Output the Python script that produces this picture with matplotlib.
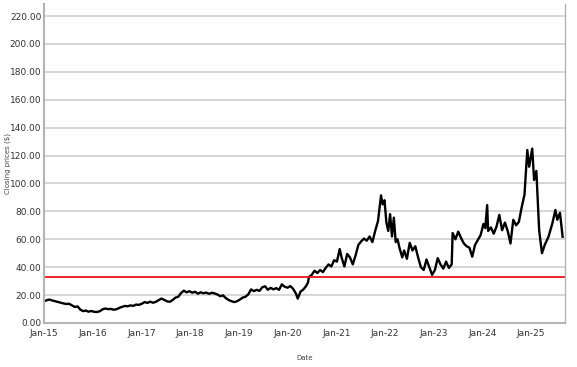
import pandas as pd
import matplotlib
matplotlib.use("Agg")
import matplotlib.pyplot as plt
import matplotlib.dates as mdates
from matplotlib.ticker import MultipleLocator, FormatStrFormatter

# Closing prices (approximate)
dates = [
    "2015-01-02", "2015-01-20", "2015-02-10", "2015-03-02", "2015-03-25", "2015-04-15",
    "2015-05-05", "2015-05-28", "2015-06-18", "2015-07-08", "2015-07-30", "2015-08-20",
    "2015-09-10", "2015-09-30", "2015-10-20", "2015-11-10", "2015-12-01", "2015-12-22",
    "2016-01-12", "2016-02-02", "2016-02-23", "2016-03-15", "2016-04-05", "2016-04-26",
    "2016-05-17", "2016-06-07", "2016-06-28", "2016-07-19", "2016-08-09", "2016-08-30",
    "2016-09-20", "2016-10-11", "2016-11-01", "2016-11-22", "2016-12-13", "2017-01-04",
    "2017-01-25", "2017-02-15", "2017-03-08", "2017-03-29", "2017-04-19", "2017-05-10",
    "2017-05-31", "2017-06-21", "2017-07-12", "2017-08-02", "2017-08-23", "2017-09-13",
    "2017-10-04", "2017-10-25", "2017-11-15", "2017-12-06", "2017-12-27", "2018-01-17",
    "2018-02-07", "2018-02-28", "2018-03-21", "2018-04-11", "2018-05-02", "2018-05-23",
    "2018-06-13", "2018-07-04", "2018-07-25", "2018-08-15", "2018-09-05", "2018-09-26",
    "2018-10-17", "2018-11-07", "2018-11-28", "2018-12-19", "2019-01-09", "2019-01-30",
    "2019-02-20", "2019-03-13", "2019-04-03", "2019-04-24", "2019-05-15", "2019-06-05",
    "2019-06-26", "2019-07-17", "2019-08-07", "2019-08-28", "2019-09-18", "2019-10-09",
    "2019-10-30", "2019-11-20", "2019-12-11", "2020-01-02", "2020-01-23", "2020-02-13",
    "2020-03-05", "2020-03-18", "2020-04-08", "2020-04-29", "2020-05-20", "2020-06-03",
    "2020-06-10", "2020-07-01", "2020-07-22", "2020-08-12", "2020-09-02", "2020-09-23",
    "2020-10-14", "2020-11-04", "2020-11-25", "2020-12-16", "2021-01-06", "2021-01-27",
    "2021-02-10", "2021-03-03", "2021-03-24", "2021-04-14", "2021-05-05", "2021-05-26",
    "2021-06-16", "2021-07-07", "2021-07-28", "2021-08-18", "2021-09-08", "2021-09-29",
    "2021-10-20", "2021-11-10", "2021-11-24", "2021-12-03", "2021-12-15", "2021-12-29",
    "2022-01-12", "2022-01-26", "2022-02-09", "2022-02-23", "2022-03-09", "2022-03-23",
    "2022-04-06", "2022-04-20", "2022-05-11", "2022-05-25", "2022-06-15", "2022-07-06",
    "2022-07-27", "2022-08-17", "2022-09-07", "2022-09-28", "2022-10-19", "2022-11-09",
    "2022-11-30", "2022-12-21", "2023-01-11", "2023-02-01", "2023-02-22", "2023-03-15",
    "2023-04-05", "2023-04-26", "2023-05-17", "2023-05-24", "2023-06-14", "2023-07-05",
    "2023-07-26", "2023-08-16", "2023-09-06", "2023-09-27", "2023-10-18", "2023-11-08",
    "2023-11-29", "2023-12-20", "2024-01-10", "2024-01-24", "2024-02-07", "2024-02-14",
    "2024-03-06", "2024-03-27", "2024-04-17", "2024-05-08", "2024-05-29", "2024-06-19",
    "2024-07-10", "2024-07-31", "2024-08-21", "2024-09-11", "2024-10-02", "2024-10-23",
    "2024-11-13", "2024-12-04", "2024-12-18", "2025-01-10", "2025-01-24", "2025-02-10",
    "2025-03-03", "2025-03-24", "2025-04-14", "2025-05-12", "2025-06-10", "2025-07-03",
    "2025-07-17", "2025-08-06", "2025-08-26",
]
prices = [
    15.5, 16.3, 16.8, 16.2, 15.6, 15.0,
    14.6, 14.0, 13.6, 13.8, 12.6, 11.5,
    11.9, 9.6, 8.5, 8.9, 8.1, 8.6,
    8.0, 7.9, 8.4, 9.8, 10.4, 9.9,
    10.1, 9.5, 9.9, 10.8, 11.6, 12.2,
    12.0, 12.6, 12.3, 13.2, 13.0, 13.8,
    15.0, 14.4, 15.3, 14.5, 15.2, 16.4,
    17.5, 16.6, 15.5, 15.2, 16.5, 18.2,
    18.8, 21.5, 23.2, 22.0, 22.8, 21.7,
    22.4, 21.0, 22.0, 21.3, 21.8, 20.9,
    21.7, 21.2, 20.4, 19.2, 19.8, 17.8,
    16.5, 15.6, 15.0, 15.6, 16.8, 18.2,
    18.8, 20.5, 24.1, 22.8, 23.8, 23.0,
    25.6, 26.3, 23.8, 25.2, 24.1, 25.0,
    23.8, 27.7, 26.0, 25.3, 26.5, 24.4,
    21.0, 17.5, 22.5, 24.0, 26.5, 29.0,
    33.0, 34.5, 37.5, 35.8, 38.0, 36.5,
    39.5, 42.0, 40.5, 45.0, 44.0, 53.0,
    47.0, 40.5, 49.5, 47.0, 42.0, 48.5,
    56.0, 58.5, 60.5, 59.0, 62.0, 58.0,
    66.0, 73.0, 84.0, 91.5, 85.0, 88.0,
    72.0, 66.0, 78.0, 62.0, 75.5, 58.0,
    60.0, 54.0, 47.0, 52.0, 46.0, 57.5,
    52.0, 55.0, 47.0, 40.0, 38.0, 45.5,
    40.0, 34.5, 38.0, 46.5, 42.0, 39.0,
    44.0, 39.5, 42.0, 64.5, 60.0, 65.5,
    61.0, 57.0, 55.0, 54.0, 47.5, 56.0,
    59.5, 63.0, 71.0, 68.0, 84.5, 66.0,
    68.5, 64.0, 69.0, 77.5, 66.5, 72.0,
    66.0, 57.0, 74.0, 70.0, 72.5, 83.0,
    92.0, 124.0, 112.0, 125.0, 102.5, 109.0,
    66.5, 50.0, 56.0, 61.8, 71.4, 81.0,
    74.0, 79.0, 61.8,
]
reference_level = 33.0

df = pd.DataFrame({"date": pd.to_datetime(dates), "close": prices})

fig = plt.figure(figsize=(5.77, 3.67), dpi=100)
ax = fig.add_axes([0.0763, 0.1199, 0.9027, 0.869])

ax.plot(df["date"], df["close"], color="black", linewidth=1.7)
ax.axhline(reference_level, color="#e8141c", linewidth=1.3)

ax.set_xlim(pd.Timestamp("2015-01-01"), pd.Timestamp("2025-09-12"))
ax.set_ylim(0, 228.6)

ax.yaxis.set_major_locator(MultipleLocator(20))
ax.yaxis.set_major_formatter(FormatStrFormatter("%.2f"))
ax.xaxis.set_major_locator(mdates.YearLocator())
ax.xaxis.set_major_formatter(mdates.DateFormatter("%b-%y"))

ax.grid(axis="y", color="#cfcfcf", linewidth=1.2)
ax.set_axisbelow(True)
ax.tick_params(length=0, labelsize=6.5, colors="#333333")
ax.tick_params(axis="y", pad=2)
ax.tick_params(axis="x", pad=4)

for side in ["left", "bottom"]:
    ax.spines[side].set_color("#b4b4b4")
    ax.spines[side].set_linewidth(1.5)
ax.spines["right"].set_color("#b4b4b4")
ax.spines["right"].set_linewidth(1.0)
ax.spines["top"].set_visible(False)

# axis titles placed like in the original export
fig.text(8 / 577, 1 - 163 / 367, "Closing prices ($)", rotation=90,
         fontsize=5, color="#444444", ha="center", va="center")
fig.text(305 / 577, 1 - 358 / 367, "Date",
         fontsize=5, color="#444444", ha="center", va="center")

fig.savefig("out.png", dpi=100)
